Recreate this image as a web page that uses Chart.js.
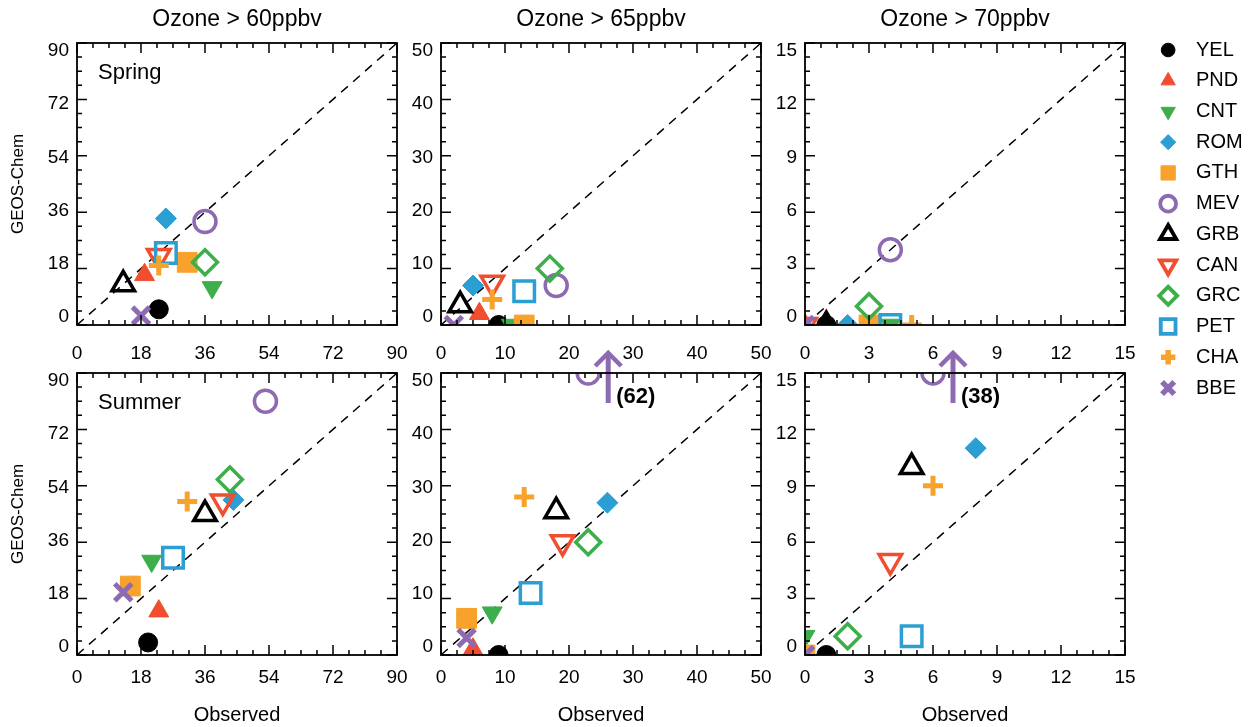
<!DOCTYPE html>
<html>
<head>
<meta charset="utf-8">
<script src="https://cdn.jsdelivr.net/npm/chart.js@4.4.1/dist/chart.umd.min.js"></script>
<style>
  body { margin: 0; background: #fff; }
  #wrap { position: relative; width: 1259px; height: 727px; font-family: "Liberation Sans", Arial, sans-serif; overflow: hidden; }
  #wrap canvas { position: absolute; }
  .lbl { position: absolute; color: #000; white-space: nowrap; transform: translate(-50%, -50%); }
</style>
</head>
<body>
<div id="wrap"></div>
<script>
// sites (legend order)
const sites = ['YEL', 'PND', 'CNT', 'ROM', 'GTH', 'MEV', 'GRB', 'CAN', 'GRC', 'PET', 'CHA', 'BBE'];
const thresholds = ['Ozone > 60ppbv', 'Ozone > 65ppbv', 'Ozone > 70ppbv'];
const seasons = ['Spring', 'Summer'];
const axisMax = [90, 50, 15];
const majorStep = [18, 10, 3];

// number of days, observed vs GEOS-Chem, one value per site
const springObs60 = [23, 19, 38, 25, 31, 36, 13, 23, 36, 25, 23, 18];
const springMod60 = [5, 16, 12, 34, 20, 33, 13, 22, 20, 23, 19, 3];
const springObs65 = [9, 6, 11, 5, 13, 18, 3, 8, 17, 13, 8, 2];
const springMod65 = [0, 2, 0, 7, 0, 7, 3.5, 7.5, 10, 6, 4.5, 0];
const springObs70 = [1, 0, 4, 2, 3, 4, 1, 0, 3, 4, 5, 0];
const springMod70 = [0, 0, 0, 0, 0, 4, 0, 0, 1, 0, 0, 0];

const summerObs60 = [20, 23, 21, 44, 15, 53, 36, 41, 43, 27, 31, 13];
const summerMod60 = [4, 14, 30, 49.5, 22, 81, 45, 49, 56, 31, 49, 20];
const summerObs65 = [9, 5, 8, 26, 4, 23, 18, 19, 23, 14, 13, 4];
const summerMod65 = [0, 1, 7.5, 27, 6.5, 62, 25.5, 20, 20, 11, 28, 3];
const summerObs70 = [1, 0, 0, 8, 0, 6, 5, 4, 2, 5, 6, 0];
const summerMod70 = [0, 0, 1, 11, 0, 38, 10, 5, 1, 1, 9, 0];

const obsSets = [[springObs60, springObs65, springObs70], [summerObs60, summerObs65, summerObs70]];
const modSets = [[springMod60, springMod65, springMod70], [summerMod60, summerMod65, summerMod70]];

const colors = ['#000000', '#F04E2E', '#3DAE4A', '#2B9FD4', '#F8A12B', '#8D6AB2',
                '#000000', '#F04E2E', '#3DAE4A', '#2B9FD4', '#F8A12B', '#8D6AB2'];
const markers = [
  { style: 'circle', filled: true, r: 9.5 },
  { style: 'triangle', filled: true, r: 11.5 },
  { style: 'triangle', rot: 180, filled: true, r: 11.5 },
  { style: 'rectRot', filled: true, r: 10.5 },
  { style: 'rect', filled: true, r: 14 },
  { style: 'circle', filled: false, r: 11, bw: 3.5 },
  { style: 'triangle', filled: false, r: 13, bw: 3.5 },
  { style: 'triangle', rot: 180, filled: false, r: 13, bw: 3.5 },
  { style: 'rectRot', filled: false, r: 12.5, bw: 3.5 },
  { style: 'rect', filled: false, r: 14.5, bw: 3.5 },
  { style: 'cross', filled: false, r: 10, bw: 5 },
  { style: 'crossRot', filled: false, r: 12, bw: 5 }
];

const FONT = '"Liberation Sans", Arial, sans-serif';
const wrap = document.getElementById('wrap');

function addLabel(text, x, y, size, extra) {
  const d = document.createElement('div');
  d.className = 'lbl';
  d.textContent = text;
  d.style.left = x + 'px';
  d.style.top = y + 'px';
  d.style.fontSize = size + 'px';
  if (extra) d.style.transform = extra;
  wrap.appendChild(d);
}

function pointStyle(i, scale) {
  const m = markers[i];
  return {
    pointStyle: m.style,
    pointRotation: m.rot || 0,
    pointRadius: m.r * scale,
    pointHoverRadius: m.r * scale,
    pointBackgroundColor: m.filled ? colors[i] : 'rgba(0,0,0,0)',
    pointBorderColor: colors[i],
    pointBorderWidth: m.filled ? 1 : (m.bw || 1) * (scale < 1 ? 1.1 : 1)
  };
}

function isMajor(v, step) {
  const q = v / step;
  return Math.abs(q - Math.round(q)) < 1e-6;
}

// frame with inward ticks on all four sides, y labels squeezed a bit toward the middle
function framePlugin(step) {
  return {
    id: 'frame',
    afterDraw(chart) {
      const { ctx, chartArea: a, scales: { x, y } } = chart;
      ctx.save();
      ctx.strokeStyle = '#000';
      ctx.lineWidth = 1.8;
      ctx.strokeRect(a.left, a.top, a.right - a.left, a.bottom - a.top);
      ctx.lineWidth = 1.5;
      ctx.beginPath();
      x.ticks.forEach(t => {
        const px = x.getPixelForValue(t.value);
        const len = isMajor(t.value, step) ? 10 : 5;
        ctx.moveTo(px, a.bottom); ctx.lineTo(px, a.bottom - len);
        ctx.moveTo(px, a.top); ctx.lineTo(px, a.top + len);
      });
      y.ticks.forEach(t => {
        const py = y.getPixelForValue(t.value);
        const len = isMajor(t.value, step) ? 10 : 5;
        ctx.moveTo(a.left, py); ctx.lineTo(a.left + len, py);
        ctx.moveTo(a.right, py); ctx.lineTo(a.right - len, py);
      });
      ctx.stroke();
      const mid = (a.top + a.bottom) / 2;
      ctx.fillStyle = '#000';
      ctx.font = '19px ' + FONT;
      ctx.textAlign = 'right';
      ctx.textBaseline = 'middle';
      y.ticks.forEach(t => {
        if (!isMajor(t.value, step)) return;
        const py = y.getPixelForValue(t.value);
        ctx.fillText(String(Math.round(t.value)), a.left - 8, mid + (py - mid) * 0.945);
      });
      ctx.restore();
    }
  };
}

// season label, and arrow + value for points above the axis range
function overPlugin(obs, mod, max, seasonLabel) {
  return {
    id: 'over',
    afterDatasetsDraw(chart) {
      const { ctx, chartArea: a, scales: { x } } = chart;
      ctx.save();
      if (seasonLabel) {
        ctx.fillStyle = '#000';
        ctx.font = '22px ' + FONT;
        ctx.textBaseline = 'middle';
        ctx.fillText(seasonLabel, a.left + 21, a.top + 30);
      }
      mod.forEach((v, i) => {
        if (v <= max) return;
        const px = x.getPixelForValue(obs[i]) + 20;
        ctx.strokeStyle = colors[i];
        ctx.lineWidth = 5;
        ctx.beginPath();
        ctx.moveTo(px, a.top + 30); ctx.lineTo(px, a.top - 19);
        ctx.stroke();
        ctx.lineWidth = 4.5;
        ctx.beginPath();
        ctx.moveTo(px - 13, a.top - 7); ctx.lineTo(px, a.top - 20); ctx.lineTo(px + 13, a.top - 7);
        ctx.stroke();
        ctx.fillStyle = '#000';
        ctx.font = 'bold 22px ' + FONT;
        ctx.textBaseline = 'middle';
        ctx.fillText('(' + v + ')', px + 8, a.top + 24);
      });
      ctx.restore();
    }
  };
}

const plotLefts = [77, 441, 805];
const plotTops = [43, 373];
const plotW = 320, plotH = 282;
const padL = 55, padR = 35, padT = 30, xAxisH = 40, padB = 4;
const xLabelPad = [17, 11];

for (let r = 0; r < 2; r++) {
  for (let c = 0; c < 3; c++) {
    const canvas = document.createElement('canvas');
    canvas.width = padL + plotW + padR;
    canvas.height = padT + plotH + xAxisH + padB;
    canvas.style.left = (plotLefts[c] - padL) + 'px';
    canvas.style.top = (plotTops[r] - padT) + 'px';
    wrap.appendChild(canvas);

    const obs = obsSets[r][c], mod = modSets[r][c], max = axisMax[c];
    const datasets = sites.map((s, i) => Object.assign({
      label: s,
      data: [{ x: obs[i], y: Math.min(mod[i], max) }],
      clip: 0,
      order: 12 - i
    }, pointStyle(i, 1)));
    datasets.push({
      label: '1:1',
      data: [{ x: 0, y: 0 }, { x: max, y: max }],
      showLine: true,
      borderColor: '#000',
      borderWidth: 1.5,
      borderDash: [9, 7],
      pointRadius: 0,
      clip: 0,
      order: 100
    });

    const tickFont = { family: FONT, size: 19 };
    new Chart(canvas, {
      type: 'scatter',
      data: { datasets },
      options: {
        responsive: false,
        animation: false,
        devicePixelRatio: 1,
        events: [],
        layout: { padding: { left: 0, right: padR, top: padT, bottom: padB } },
        plugins: { legend: { display: false }, tooltip: { enabled: false } },
        scales: {
          x: {
            type: 'linear', min: 0, max: max,
            grid: { display: false, drawTicks: false },
            border: { display: false },
            ticks: {
              stepSize: majorStep[c] / 4, autoSkip: false, maxRotation: 0,
              color: '#000', font: tickFont, padding: xLabelPad[r],
              callback: v => isMajor(v, majorStep[c]) ? String(Math.round(v)) : ''
            },
            afterFit: s => { s.height = xAxisH; }
          },
          y: {
            type: 'linear', min: 0, max: max,
            grid: { display: false, drawTicks: false },
            border: { display: false },
            ticks: { stepSize: majorStep[c] / 4, autoSkip: false, display: false },
            afterFit: s => { s.width = padL; }
          }
        }
      },
      plugins: [framePlugin(majorStep[c]), overPlugin(obs, mod, max, c === 0 ? seasons[r] : null)]
    });
  }
}

// legend: one marker per site, names as the category axis labels
const legCanvas = document.createElement('canvas');
legCanvas.width = 113;
legCanvas.height = 402;
legCanvas.style.left = '1146px';
legCanvas.style.top = '18px';
wrap.appendChild(legCanvas);
new Chart(legCanvas, {
  type: 'scatter',
  data: {
    datasets: sites.map((s, i) => Object.assign({
      label: s, data: [{ x: 0, y: s }], clip: false
    }, pointStyle(i, 0.72)))
  },
  options: {
    responsive: false,
    animation: false,
    devicePixelRatio: 1,
    events: [],
    layout: { padding: { left: 10, right: 0, top: 29, bottom: 20 } },
    plugins: { legend: { display: false }, tooltip: { enabled: false } },
    scales: {
      x: { type: 'linear', min: -1, max: 1, display: false },
      y: {
        type: 'category', labels: sites, position: 'right', offset: false,
        grid: { display: false, drawTicks: false },
        border: { display: false },
        ticks: { autoSkip: false, padding: 20, color: '#000', font: { family: FONT, size: 20 } },
        afterFit: s => { s.width = 83; }
      }
    }
  }
});

// titles
thresholds.forEach((t, c) => addLabel(t, plotLefts[c] + plotW / 2, 18, 23));
[0, 1, 2].forEach(c => addLabel('Observed', plotLefts[c] + plotW / 2, 714, 20));
plotTops.forEach(t => addLabel('GEOS-Chem', 18, t + plotH / 2, 17, 'translate(-50%, -50%) rotate(-90deg)'));
</script>
</body>
</html>
